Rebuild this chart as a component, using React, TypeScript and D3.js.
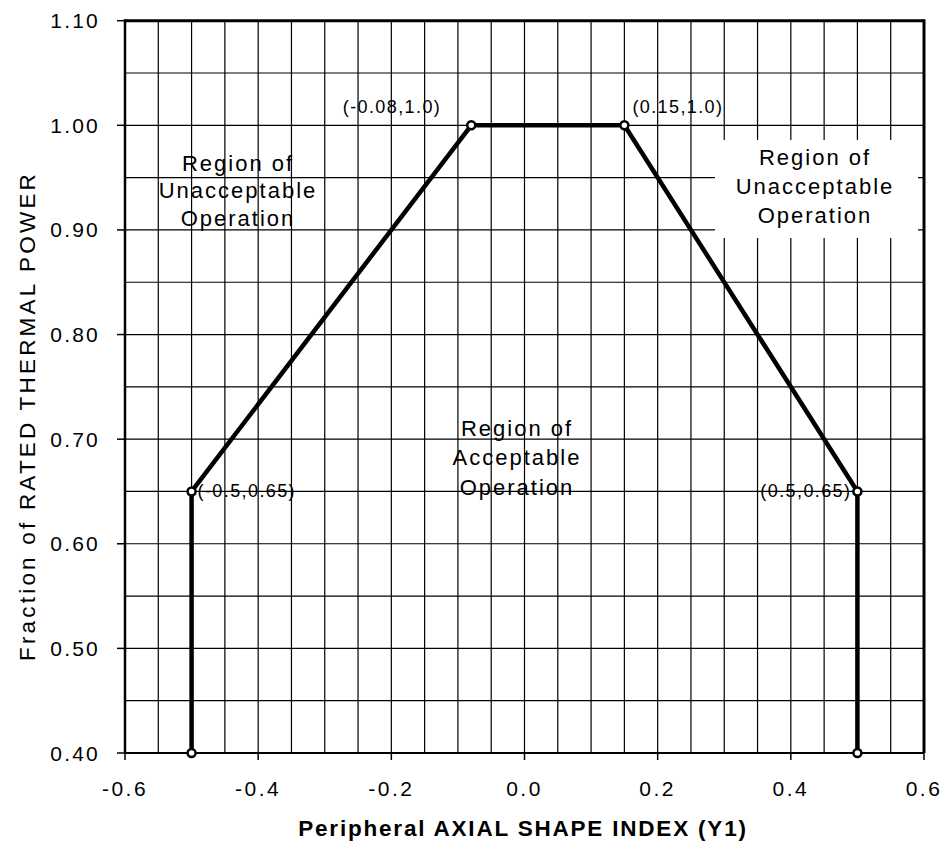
import React from "react";
import * as d3 from "d3";

const boundaryX = [-0.5, -0.5, -0.08, 0.15, 0.5, 0.5];
const boundaryY = [0.4, 0.65, 1.0, 1.0, 0.65, 0.4];
const pointLabels = ["", "(-0.5,0.65)", "(-0.08,1.0)", "(0.15,1.0)", "(0.5,0.65)", ""];
const xTicks = [-0.6, -0.4, -0.2, 0.0, 0.2, 0.4, 0.6];
const yTicks = [0.4, 0.5, 0.6, 0.7, 0.8, 0.9, 1.0, 1.1];

const W = 948, H = 841;
const L = 125, R = 924, T = 20.7, B = 753;
const FONT = "'Liberation Sans', Arial, sans-serif";

export default function App() {
  const x = d3.scaleLinear().domain([-0.6, 0.6]).range([L, R]);
  const y = d3.scaleLinear().domain([0.4, 1.1]).range([B, T]);
  const gridX = d3.range(-0.6, 0.6001, 0.05);
  const gridY = d3.range(0.4, 1.1001, 0.05);
  const pts = boundaryX.map((v, i) => [v, boundaryY[i]] as [number, number]);
  const line = d3.line<[number, number]>().x(d => x(d[0])).y(d => y(d[1]));

  const labelPos: Record<number, { dx: number; dy: number; anchor: string }> = {
    1: { dx: 6, dy: 6, anchor: "start" },
    2: { dx: -30, dy: -12, anchor: "end" },
    3: { dx: 8, dy: -12, anchor: "start" },
    4: { dx: -6, dy: 6, anchor: "end" },
  };

  const regionText = (cx: number, cy: number, lines: string[], gap: number) =>
    lines.map((t, i) => (
      <text key={t + i} x={cx} y={cy + i * gap} textAnchor="middle" dominantBaseline="central"
        fontSize={22} letterSpacing={2} fontFamily={FONT} fill="#000">{t}</text>
    ));

  return (
    <svg width={W} height={H} style={{ position: "absolute", left: 0, top: 0, background: "#fff" }}>
      <rect x={0} y={0} width={W} height={H} fill="#fff" />
      {gridX.map((g, i) => (
        <line key={"gx" + i} x1={x(g)} x2={x(g)} y1={T} y2={B} stroke="#000" strokeWidth={1.2} />
      ))}
      {gridY.map((g, i) => (
        <line key={"gy" + i} x1={L} x2={R} y1={y(g)} y2={y(g)} stroke="#000" strokeWidth={1.2} />
      ))}
      {/* white box behind right region text */}
      <rect x={715} y={140} width={203} height={98} fill="#fff" />
      {/* frame */}
      <line x1={L} x2={R} y1={T} y2={T} stroke="#000" strokeWidth={3} />
      <line x1={R} x2={R} y1={T - 1.5} y2={B} stroke="#000" strokeWidth={3} />
      <line x1={L} x2={L} y1={T - 1.5} y2={B + 1} stroke="#000" strokeWidth={2.5} />
      <line x1={L} x2={R} y1={B} y2={B} stroke="#000" strokeWidth={2.2} />
      {yTicks.map(t => (
        <g key={"yt" + t}>
          <line x1={L - 8} x2={L} y1={y(t)} y2={y(t)} stroke="#000" strokeWidth={1.5} />
          <text x={100} y={y(t)} textAnchor="end" dominantBaseline="central" fontSize={21}
            letterSpacing={2.2} fontFamily={FONT}>{t.toFixed(2)}</text>
        </g>
      ))}
      {xTicks.map(t => (
        <g key={"xt" + t}>
          <line x1={x(t)} x2={x(t)} y1={B} y2={B + 7} stroke="#000" strokeWidth={1.5} />
          <text x={x(t)} y={788} textAnchor="middle" dominantBaseline="central" fontSize={21}
            letterSpacing={2.5} fontFamily={FONT}>{t.toFixed(1)}</text>
        </g>
      ))}
      <path d={line(pts) || ""} fill="none" stroke="#000" strokeWidth={4.5} strokeLinejoin="round" />
      {pts.map((p, i) => (
        <circle key={"c" + i} cx={x(p[0])} cy={y(p[1])} r={4} fill="#fff" stroke="#000" strokeWidth={2.5} />
      ))}
      {pts.map((p, i) => pointLabels[i] ? (
        <text key={"pl" + i} x={x(p[0]) + labelPos[i].dx} y={y(p[1]) + labelPos[i].dy}
          textAnchor={labelPos[i].anchor} fontSize={18} letterSpacing={1.4} fontFamily={FONT}>{pointLabels[i]}</text>
      ) : null)}
      {regionText(238, 163, ["Region of", "Unacceptable", "Operation"], 27.5)}
      {regionText(815, 157, ["Region of", "Unacceptable", "Operation"], 29)}
      {regionText(517, 428, ["Region of", "Acceptable", "Operation"], 29.5)}
      <text x={523} y={828} textAnchor="middle" dominantBaseline="central" fontSize={22.5}
        fontWeight="bold" letterSpacing={1.8} fontFamily={FONT}>Peripheral AXIAL SHAPE INDEX (Y1)</text>
      <text transform={`translate(27,416) rotate(-90)`} textAnchor="middle"
        dominantBaseline="central" fontSize={22.5} letterSpacing={3.2} fontFamily={FONT}>
        Fraction of RATED THERMAL POWER
      </text>
    </svg>
  );
}
